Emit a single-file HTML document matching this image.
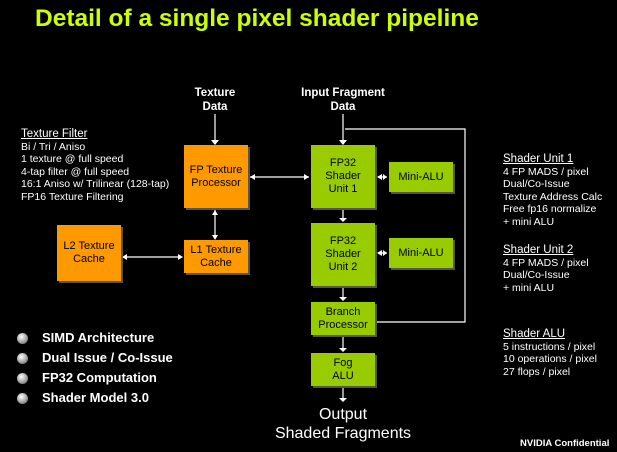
<!DOCTYPE html><html><head><style>
body{margin:0;width:617px;height:452px;background:#000;overflow:hidden;position:relative;font-family:"Liberation Sans",sans-serif;color:#fff}
.a{position:absolute}
.b{position:absolute;display:flex;align-items:center;justify-content:center;text-align:center;font-size:11px;line-height:13px;color:#000;box-shadow:2px 2px 0 #555}
.o{background:#ff9900}.g{background:#99cc00}
.t{font-size:10.5px;line-height:12.5px;white-space:nowrap}
.u{text-decoration:underline;font-size:11.5px}
.bl{font-weight:bold;font-size:13px;line-height:20px}
.dot{position:absolute;width:11px;height:11px;border-radius:50%;background:radial-gradient(circle at 40% 35%,#fff,#999 60%,#555)}
</style></head><body>
<div class="a" style="left:35px;top:5px;font-size:24.5px;font-weight:bold;color:#ccff00;white-space:nowrap">Detail of a single pixel shader pipeline</div>
<div class="a" style="left:175px;top:86px;width:80px;text-align:center;font-weight:bold;font-size:11.5px;line-height:14px">Texture<br>Data</div>
<div class="a" style="left:283px;top:86px;width:120px;text-align:center;font-weight:bold;font-size:11.5px;line-height:14px">Input Fragment<br>Data</div>
<svg class="a" style="left:0;top:0" width="617" height="452"><g stroke="#fff" stroke-width="1.2" fill="none">
<path d="M215 114V143M343 114V143M345 129H465V322H376M249 177H309M378 177H387M378 253H387M215 210V238M123 257H182M343 210V221M343 288V300M343 337V351M343 388V400"/></g>
<g fill="#fff"><path d="M211 140h8l-4 5zM339 140h8l-4 5zM250 177l5-3v6zM309 177l-5-3v6zM377 177l5-3v6zM387 177l-4-3v6zM377 253l5-3v6zM387 253l-4-3v6zM215 210l-3 5h6zM215 240l-3-5h6zM122 257l5-3v6zM183 257l-5-3v6zM339 218h8l-4 4zM339 297h8l-4 4zM339 348h8l-4 4zM339 398h8l-4 4z"/></g></svg>
<div class="b o" style="left:184px;top:145px;width:64px;height:63px">FP Texture<br>Processor</div>
<div class="b o" style="left:184px;top:240px;width:64px;height:33px">L1 Texture<br>Cache</div>
<div class="b o" style="left:57px;top:225px;width:64px;height:56px">L2 Texture<br>Cache</div>
<div class="b g" style="left:311px;top:145px;width:64px;height:63px">FP32<br>Shader<br>Unit 1</div>
<div class="b g" style="left:311px;top:223px;width:64px;height:63px">FP32<br>Shader<br>Unit 2</div>
<div class="b g" style="left:389px;top:162px;width:64px;height:30px">Mini-ALU</div>
<div class="b g" style="left:389px;top:238px;width:64px;height:30px">Mini-ALU</div>
<div class="b g" style="left:311px;top:302px;width:64px;height:33px">Branch<br>Processor</div>
<div class="b g" style="left:311px;top:353px;width:64px;height:33px">Fog<br>ALU</div>
<div class="a" style="left:253px;top:405px;width:180px;text-align:center;font-size:16px;line-height:19px">Output<br>Shaded Fragments</div>
<div class="a t" style="left:21px;top:128px"><span class="u">Texture Filter</span><br>Bi / Tri / Aniso<br>1 texture @ full speed<br>4-tap filter @ full speed<br>16:1 Aniso w/ Trilinear (128-tap)<br>FP16 Texture Filtering</div>
<div class="a t" style="left:503px;top:153px"><span class="u">Shader Unit 1</span><br>4 FP MADS / pixel<br>Dual/Co-Issue<br>Texture Address Calc<br>Free fp16 normalize<br>+ mini ALU</div>
<div class="a t" style="left:503px;top:244px"><span class="u">Shader Unit 2</span><br>4 FP MADS / pixel<br>Dual/Co-Issue<br>+ mini ALU</div>
<div class="a t" style="left:503px;top:328px"><span class="u">Shader ALU</span><br>5 instructions / pixel<br>10 operations / pixel<br>27 flops / pixel</div>
<div class="dot" style="left:17px;top:333px"></div><div class="dot" style="left:17px;top:353px"></div><div class="dot" style="left:17px;top:373px"></div><div class="dot" style="left:17px;top:393px"></div>
<div class="a bl" style="left:42px;top:328px">SIMD Architecture<br>Dual Issue / Co-Issue<br>FP32 Computation<br>Shader Model 3.0</div>
<div class="a" style="left:520px;top:438px;font-size:9.5px;font-weight:bold">NVIDIA Confidential</div>
</body></html>
